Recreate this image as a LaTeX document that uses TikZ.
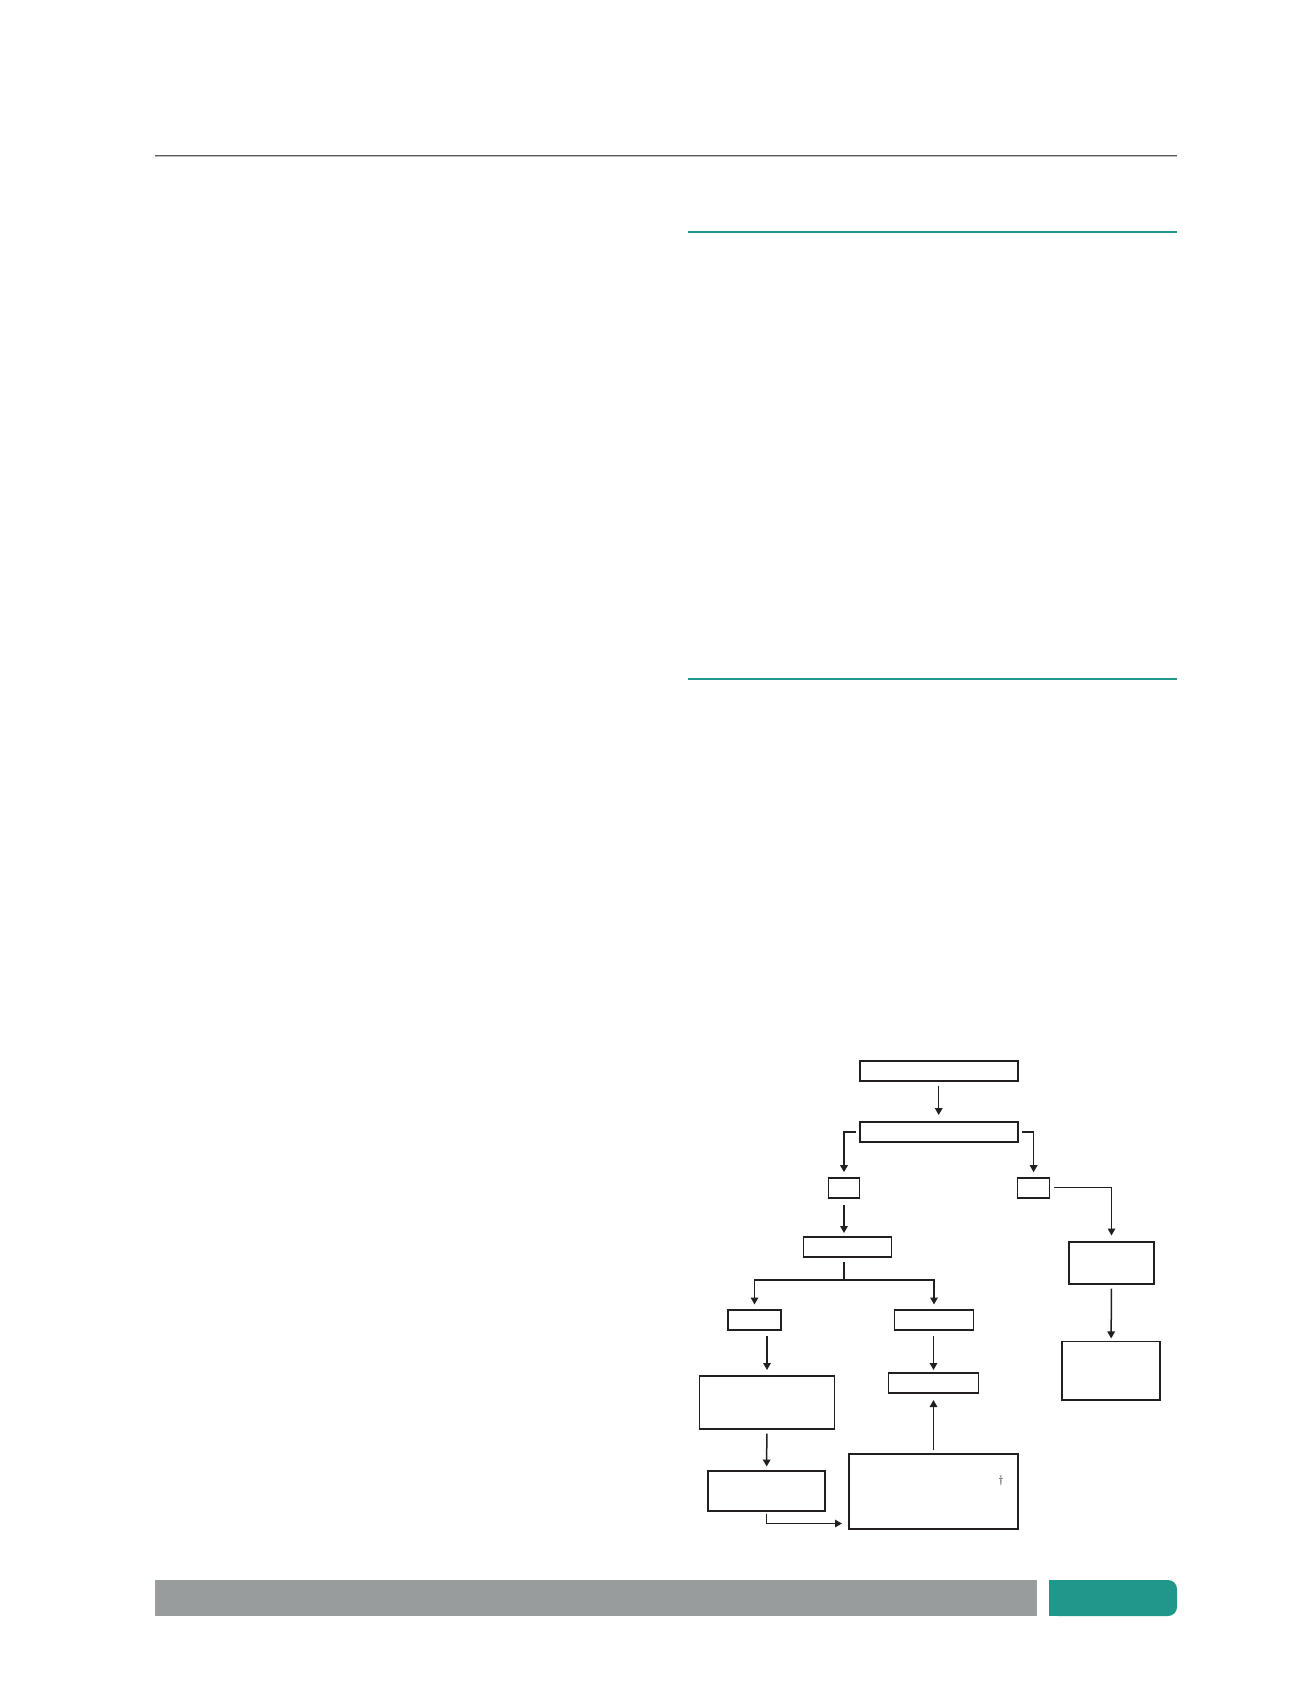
\documentclass[tikz,border=0pt]{standalone}
\usepackage{tikz}
\usetikzlibrary{arrows.meta}
\definecolor{fc_ink}{RGB}{35, 31, 32}
\definecolor{rule_gray}{RGB}{88, 88, 90}
\definecolor{rule_shade}{RGB}{190, 190, 190}
\definecolor{pg_teal}{RGB}{31, 151, 138}
\definecolor{bar_gray}{RGB}{152, 156, 156}
\tikzstyle{bx}=[rectangle,draw=fc_ink,line width=1.6pt,inner sep=0pt,
  outer sep=0pt,minimum height=20pt]
\tikzstyle{arr}=[draw=fc_ink,line width=1.5pt,
  -{Triangle[length=7pt,width=7.5pt]},shorten <=4.5pt,shorten >=5.5pt]
\tikzstyle{ln}=[draw=fc_ink,line width=1.5pt]
\tikzstyle{none}=[]
\begin{document}
\begin{tikzpicture}[x=1pt, y=-1pt]
    \useasboundingbox (0, 0) rectangle (1301, 1703);
    % page rules and footer bars
    \draw [rule_gray, line width=1.3pt] (155, 155.3) -- (1177, 155.3);
    \draw [rule_shade, line width=1pt] (155, 156.9) -- (1177, 156.9);
    \draw [pg_teal, line width=2pt] (688, 231.5) -- (1177, 231.5);
    \draw [pg_teal, line width=2pt] (688, 678.5) -- (1177, 678.5);
    \fill [bar_gray] (155, 1580) rectangle (1037, 1616);
    \fill [pg_teal, rounded corners=9pt] (1049, 1580) rectangle (1177, 1616);
    \fill [pg_teal] (1049, 1580) rectangle (1160, 1616);
    % flowchart boxes
    \node [style=bx, minimum width=158pt] (0) at (938.7, 1071) {};
    \node [style=bx, minimum width=158pt] (1) at (938.7, 1132) {};
    \node [style=bx, minimum width=31pt] (2) at (844, 1187.7) {};
    \node [style=bx, minimum width=32pt] (3) at (1033.6, 1187.7) {};
    \node [style=bx, minimum width=88pt] (4) at (847.6, 1247) {};
    \node [style=bx, minimum width=85pt, minimum height=42pt] (5) at (1111.5, 1263) {};
    \node [style=bx, minimum width=53pt] (6) at (754.5, 1320) {};
    \node [style=bx, minimum width=79pt] (7) at (934, 1320) {};
    \node [style=bx, minimum width=98pt, minimum height=58.5pt] (8) at (1111, 1370.7) {};
    \node [style=bx, minimum width=135pt, minimum height=53pt] (9) at (767, 1402.5) {};
    \node [style=bx, minimum width=90pt] (10) at (933.5, 1383) {};
    \node [style=bx, minimum width=169pt, minimum height=75pt] (11) at (933.5, 1491.5) {};
    \node [style=bx, minimum width=117pt, minimum height=40pt] (12) at (766.5, 1490.8) {};
    \node [style=none, font=\fontsize{11}{11}\selectfont] (13) at (1001, 1481) {\dag};
    \coordinate (14) at (844.2, 1280);
    % connectors
    \draw [style=arr, shorten >=7pt] (0) to (1);
    \draw [style=arr, shorten <=4pt] (1.west) -| (2.north);
    \draw [style=arr, shorten <=4pt] (1.east) -| (3.north);
    \draw [style=arr, shorten >=6.5pt] (3.east) -| (5.north);
    \draw [style=arr, shorten >=3pt] (5) to (8);
    \draw [style=arr, shorten <=7pt, shorten >=4pt] (2.south) to (2.south |- 4.north);
    \draw [style=ln, shorten <=5pt] (4.south -| 14) -- (14);
    \draw [style=arr, shorten <=0pt] (14) -| (6.north);
    \draw [style=arr, shorten <=0pt] (14) -| (7.north);
    \draw [style=arr, shorten <=6pt, shorten >=6pt] (6.south -| 9.north) to (9.north);
    \draw [style=arr, shorten <=6pt, shorten >=3pt] (7.south -| 10.north) to (10.north);
    \draw [style=arr, shorten >=4.3pt] (9) to (12);
    \draw [style=arr, shorten <=3pt, shorten >=7pt] (12.south) |- ([yshift=5.5pt]11.south west);
    \draw [style=arr, shorten <=4pt, shorten >=7pt] (11.north -| 10.south) to (10.south);
\end{tikzpicture}
\end{document}
